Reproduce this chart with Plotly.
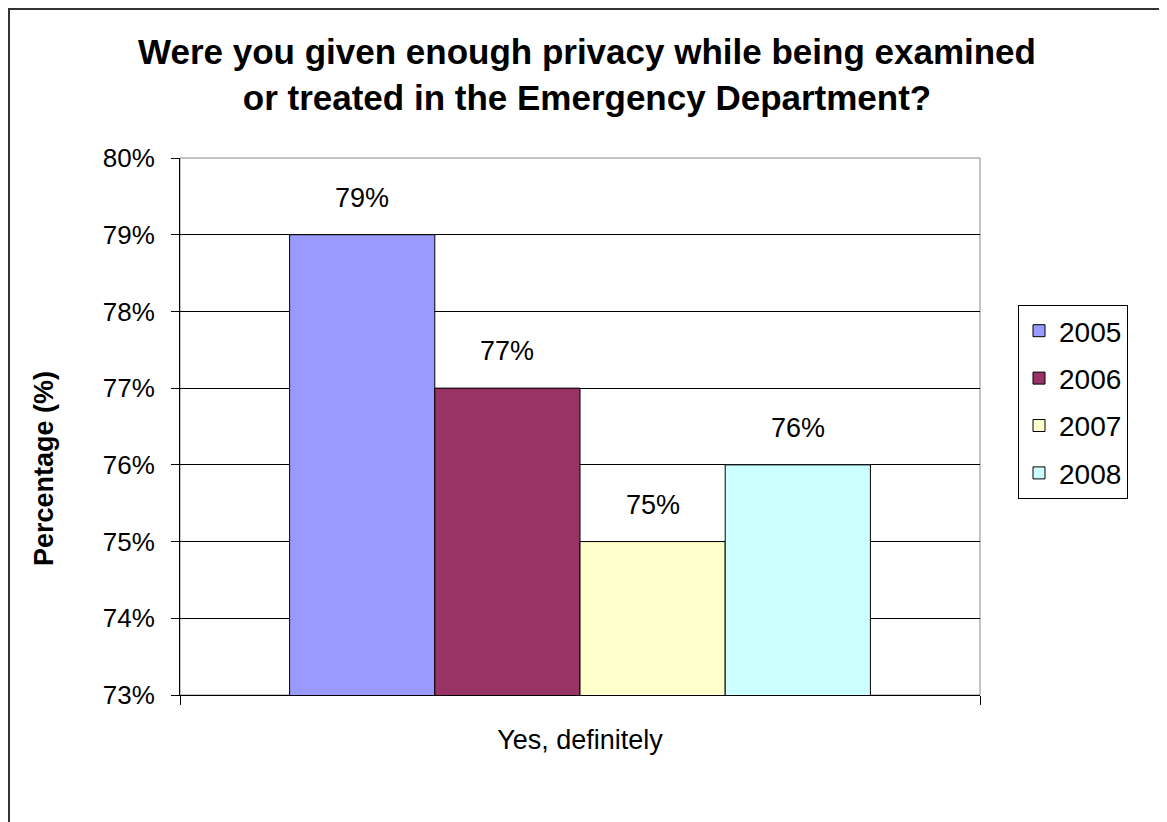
import plotly.graph_objects as go

categories = ["Yes, definitely"]
years = ["2005", "2006", "2007", "2008"]
values = [79, 77, 75, 76]
colors = ["#9999FF", "#993366", "#FFFFCC", "#CCFFFF"]
y_ticks = [73, 74, 75, 76, 77, 78, 79, 80]
y_ticklabels = [f"{v}%" for v in y_ticks]

W, H = 1167, 822
OFF = 8  # page offset of the figure in the browser
ML, MT = 180 - OFF, 158 - OFF
MR, MB = W - (980 - OFF), H - (695 - OFF)
PW = W - ML - MR
PH = H - MT - MB
BARGAP = 0.274
FONT = "Liberation Sans, Arial, sans-serif"


def px(xr):
    return (xr - OFF - ML) / PW


def py(yr):
    return (H - MB - (yr - OFF)) / PH


fig = go.Figure()
for yr, v, c in zip(years, values, colors):
    fig.add_trace(go.Bar(
        x=categories, y=[v], name=yr, legendgroup=yr,
        marker=dict(color=c, line=dict(color="black", width=1)),
    ))

# data labels above bars (x offset derived from layout bargap)
n = len(years)
bar_px = PW * (1 - BARGAP) / n
annotations = []
for i, v in enumerate(values):
    annotations.append(dict(
        x=categories[0], y=v, xref="x", yref="y",
        text=f"{v}%", showarrow=False,
        xshift=(i - (n - 1) / 2) * bar_px, yshift=37,
        font=dict(family=FONT, size=27, color="black"),
    ))

# y-axis title
annotations.append(dict(
    x=px(44), y=py(469), xref="paper", yref="paper",
    xanchor="center", yanchor="middle",
    text="<b>Percentage (%)</b>", textangle=-90, showarrow=False,
    font=dict(family=FONT, size=27, color="black"),
))

fig.update_layout(
    width=W, height=H,
    margin=dict(l=ML, r=MR, t=MT, b=MB, autoexpand=False),
    paper_bgcolor="white", plot_bgcolor="white",
    barmode="group", bargap=BARGAP, bargroupgap=0,
    title=dict(
        text="<b>Were you given enough privacy while being examined<br>or treated in the Emergency Department?</b>",
        x=(587 - OFF) / W, xanchor="center", y=1 - (64 - OFF) / H, yanchor="middle",
        font=dict(family=FONT, size=35, color="black"),
    ),
    showlegend=True,
    legend=dict(
        x=px(1018), y=py(305), xanchor="left", yanchor="top",
        bordercolor="black", borderwidth=1, bgcolor="white",
        font=dict(family=FONT, size=28, color="black"),
        tracegroupgap=8, itemwidth=30,
    ),
    xaxis=dict(
        range=[-0.5, 0.5], showline=True, linecolor="black", linewidth=1,
        ticks="outside", tickson="boundaries", ticklen=9, tickcolor="black",
        tickfont=dict(family=FONT, size=27, color="black"),
        ticklabelstandoff=21, showgrid=False,
    ),
    yaxis=dict(
        range=[73, 80], tickvals=y_ticks, ticktext=y_ticklabels,
        showline=True, linecolor="black", linewidth=1,
        ticks="outside", ticklen=8, tickcolor="black",
        tickfont=dict(family=FONT, size=26, color="black"),
        ticklabelstandoff=11,
        showgrid=True, gridcolor="black", gridwidth=1, zeroline=False,
    ),
    annotations=annotations,
    shapes=[
        # plot area border (gray)
        dict(type="rect", xref="paper", yref="paper", x0=0, x1=1, y0=0, y1=1,
             line=dict(color="#888888", width=1), layer="below"),
        # outer chart border (top and left edges visible)
        dict(type="rect", xref="paper", yref="paper",
             x0=(1 - ML) / PW, x1=(W + 10 - ML) / PW,
             y0=(H - MB - (H + 10)) / PH, y1=(H - MB - 1) / PH,
             line=dict(color="#333333", width=2)),
    ],
)

fig.write_html("out.html")
